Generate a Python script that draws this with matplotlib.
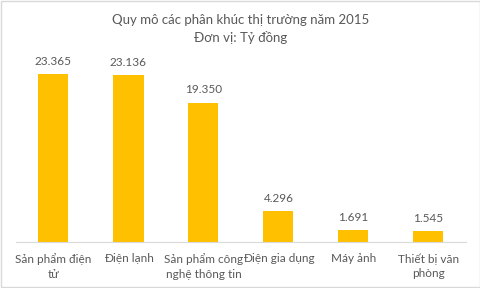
import matplotlib.pyplot as plt
from matplotlib.patches import Rectangle

categories = ["Sản phẩm điện\ntử", "Điện lạnh", "Sản phẩm công\nnghệ thông tin",
              "Điện gia dụng", "Máy ảnh", "Thiết bị văn\nphòng"]
values = [23.365, 23.136, 19.350, 4.296, 1.691, 1.545]
value_labels = ["23.365", "23.136", "19.350", "4.296", "1.691", "1.545"]

plt.rcParams['font.family'] = ['Lato', 'DejaVu Sans']
text_color = '#595959'

fig = plt.figure(figsize=(4.81, 2.88), dpi=100)
fig.patches.append(Rectangle((0.002, 0.003), 0.996, 0.994, transform=fig.transFigure,
                             fill=False, edgecolor='#D9D9D9', linewidth=1))
ax = fig.add_axes([16/481, 46/288, 450/481, 180/288])

x = range(len(categories))
ax.bar(x, values, width=0.4, color='#FFC000')
for i, v in enumerate(values):
    ax.text(i, v + 1.0, value_labels[i], ha='center', va='bottom',
            fontsize=8.5, color=text_color)

ax.set_xlim(-0.5, len(categories) - 0.5)
ax.set_ylim(0, 25)
ax.set_xticks(list(x))
ax.set_xticklabels(categories, fontsize=8.5, color=text_color, linespacing=1.4)
ax.tick_params(axis='x', length=0, pad=8)
ax.set_yticks([])
for s in ['top', 'right', 'left']:
    ax.spines[s].set_visible(False)
ax.spines['bottom'].set_color('#D9D9D9')

fig.text(0.5, 1 - 20/288, "Quy mô các phân khúc thị trường năm 2015", ha='center',
         va='center', fontsize=9.5, color=text_color)
fig.text(0.5, 1 - 37/288, "Đơn vị: Tỷ đồng", ha='center', va='center',
         fontsize=9.5, color=text_color)

fig.savefig('out.png', dpi=100)
